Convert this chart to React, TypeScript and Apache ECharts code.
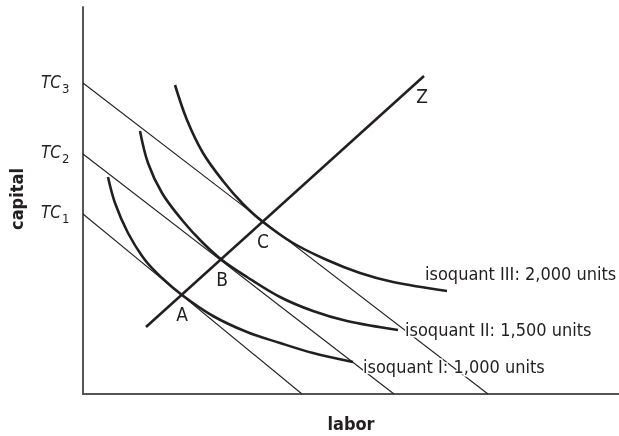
import React, { useEffect, useRef } from 'react';
import * as echarts from 'echarts';

// Data in chart units (labor on x, capital on y)
const isoquantI: number[][] = [[25,217],[32,191],[45,161],[62,134],[79,116],[99,99],[130,78],[164,62],[197,51],[230,41],[270,32]];
const isoquantII: number[][] = [[57,263],[65,231],[79,201],[99,174],[119,152],[139,134],[164,117],[197,97],[230,83],[264,73],[315,64]];
const isoquantIII: number[][] = [[92,309],[104,274],[120,241],[140,213],[160,190],[180,172],[210,151],[244,134],[277,121],[310,112],[364,103]];
const isocostTC1: number[][] = [[0,180],[219,0]];
const isocostTC2: number[][] = [[0,240],[311,0]];
const isocostTC3: number[][] = [[0,311],[405,0]];
const expansionPath: number[][] = [[63,67],[341,318]];
const tangencyPoints: number[][] = [[99,99],[139,134],[180,172]];
const pointNames = ['A', 'B', 'C'];
const tcSubscripts = ['1', '2', '3'];
const isoquantNames = ['isoquant I: 1,000 units', 'isoquant II: 1,500 units', 'isoquant III: 2,000 units'];

const NARROW = "'Liberation Sans Narrow', 'DejaVu Sans Condensed', 'Liberation Sans', sans-serif";
const INK = '#231f20';

export default function App() {
  const ref = useRef<HTMLDivElement>(null);
  useEffect(() => {
    if (!ref.current) return;
    const chart = echarts.init(ref.current, undefined, { renderer: 'svg' });
    const thin = (data: number[][]) => ({
      type: 'line', data, showSymbol: false, silent: true,
      lineStyle: { color: INK, width: 1.1 }, z: 2,
    });
    const thick = (data: number[][], smooth: boolean) => ({
      type: 'line', data, showSymbol: false, silent: true,
      smooth: smooth ? 0.35 : false,
      lineStyle: { color: INK, width: 2.6 }, z: 3,
    });
    const tcY = [212, 152, 82];
    const isoPos = [[363, 366], [405, 329], [425, 273]];
    const graphic: any[] = [];
    tcSubscripts.forEach((s, i) => {
      graphic.push({ type: 'text', x: 61, y: tcY[i], z: 100, style: { text: 'TC', font: `italic 17px ${NARROW}`, fill: INK, verticalAlign: 'middle', align: 'right' } });
      graphic.push({ type: 'text', x: 62, y: tcY[i] + 6, z: 100, style: { text: s, font: `13px ${NARROW}`, fill: INK, verticalAlign: 'middle', align: 'left' } });
    });
    isoquantNames.forEach((t, i) => {
      graphic.push({ type: 'text', x: isoPos[i][0], y: isoPos[i][1], z: 100, style: { text: t, font: `18px ${NARROW}`, fill: INK, verticalAlign: 'middle', align: 'left', stroke: '#fff', lineWidth: 3 } });
    });
    graphic.push({ type: 'text', x: 422, y: 96, z: 100, style: { text: 'Z', font: `19px ${NARROW}`, fill: INK, verticalAlign: 'middle', align: 'center' } });
    graphic.push({ type: 'text', x: 16, y: 199, rotation: Math.PI / 2, z: 100, style: { text: 'capital', font: `bold 18px ${NARROW}`, fill: INK, verticalAlign: 'middle', align: 'center' } });
    graphic.push({ type: 'text', x: 351, y: 423, z: 100, style: { text: 'labor', font: `bold 18px ${NARROW}`, fill: INK, verticalAlign: 'middle', align: 'center' } });

    chart.setOption({
      animation: false,
      grid: { left: 83, right: 0, top: 7, bottom: 42 },
      xAxis: {
        type: 'value', min: 0, max: 536,
        axisLine: { show: true, lineStyle: { color: '#555', width: 2 } },
        axisTick: { show: false }, axisLabel: { show: false }, splitLine: { show: false },
      },
      yAxis: {
        type: 'value', min: 0, max: 387,
        axisLine: { show: true, lineStyle: { color: '#555', width: 2 } },
        axisTick: { show: false }, axisLabel: { show: false }, splitLine: { show: false },
      },
      series: [
        thin(isocostTC1), thin(isocostTC2), thin(isocostTC3),
        thick(isoquantI, true), thick(isoquantII, true), thick(isoquantIII, true),
        thick(expansionPath, false),
        {
          type: 'scatter', data: tangencyPoints.map((p, i) => ({ value: p, name: pointNames[i] })),
          symbolSize: 0, silent: true, z: 5, itemStyle: { opacity: 1 },
          label: { show: true, position: 'bottom', distance: 9, formatter: '{b}', fontFamily: NARROW, fontSize: 19, color: INK, opacity: 1 },
        },
      ],
      graphic,
    });
    return () => chart.dispose();
  }, []);
  return <div ref={ref} style={{ position: 'fixed', left: 0, top: 0, width: 619, height: 436 }} />;
}
